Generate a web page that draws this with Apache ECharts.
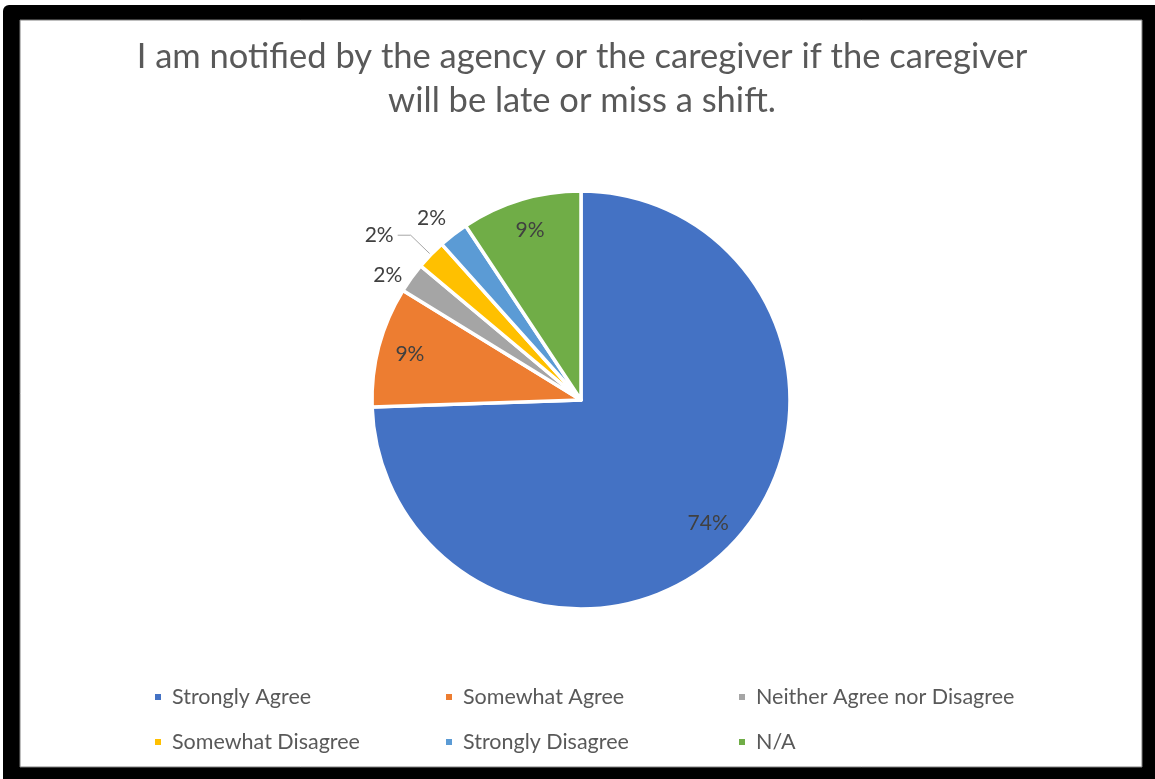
<!DOCTYPE html>
<html>
<head>
<meta charset="utf-8">
<script src="https://cdn.jsdelivr.net/npm/echarts@6/dist/echarts.min.js"></script>
<style>
  html, body { margin: 0; padding: 0; background: #ffffff; }
  #chart { width: 1155px; height: 779px; }
</style>
</head>
<body>
<div id="chart"></div>
<script>
// Survey responses (share of respondents, %)
const categories = ['Strongly Agree', 'Somewhat Agree', 'Neither Agree nor Disagree', 'Somewhat Disagree', 'Strongly Disagree', 'N/A'];
const shares = [74.4, 9.3, 2.3, 2.3, 2.3, 9.3];
const palette = ['#4472C4', '#ED7D31', '#A5A5A5', '#FFC000', '#5B9BD5', '#70AD47'];
const titleLines = ['I am notified by the agency or the caregiver if the caregiver', 'will be late or miss a shift.'];
const legendColumns = [
  ['Strongly Agree', 'Somewhat Disagree'],
  ['Somewhat Agree', 'Strongly Disagree'],
  ['Neither Agree nor Disagree', 'N/A']
];

const FONT = 'Lato';
const TEXT_GREY = '#595959';
const LABEL_GREY = '#404040';
const CX = 581, CY = 400, R = 209;

// Thin slices get their labels outside the pie; the rest sit inside.
const outsideLabel = {
  2: { length: 5, length2: 0, line: false, dist: 5 },
  3: { length: 28, length2: 13, line: true, dist: 4 },
  4: { length: 20, length2: 0, line: false, dist: -5 }
};

const pct = v => Math.round(v) + '%';

const sliceData = categories.map((name, i) => {
  const item = { name, value: shares[i], itemStyle: { color: palette[i] } };
  const o = outsideLabel[i];
  if (o) {
    item.label = { show: true, position: 'outside', distanceToLabelLine: o.dist };
    item.labelLine = { show: o.line, length: o.length, length2: o.length2 };
  } else {
    item.label = { show: false };
  }
  return item;
});

// Transparent twin used only to place the inside labels further out.
const insideData = categories.map((name, i) => ({
  name,
  value: shares[i],
  label: { show: !outsideLabel[i] }
}));

const legendBase = {
  orient: 'vertical',
  top: 686,
  padding: 0,
  itemGap: 23,
  itemWidth: 8,
  itemHeight: 8,
  icon: 'rect',
  selectedMode: false,
  textStyle: { fontFamily: FONT, fontSize: 21.5, color: TEXT_GREY, lineHeight: 20, padding: [0, 0, 0, 5] }
};
const legendLefts = [153, 444, 737];

const option = {
  animation: false,
  color: palette,
  graphic: [
    { type: 'rect', z: -10, silent: true, shape: { x: 3, y: 5, width: 1152, height: 774, r: [6, 0, 0, 0] }, style: { fill: '#000000' } },
    { type: 'rect', z: -9, silent: true, shape: { x: 20, y: 20, width: 1122, height: 747 }, style: { fill: '#ffffff', stroke: '#7f7f7f', lineWidth: 1 } }
  ],
  title: {
    text: titleLines.join('\n'),
    left: 582,
    top: 35,
    textAlign: 'center',
    padding: 0,
    textStyle: { fontFamily: FONT, fontWeight: 'normal', fontSize: 34.5, lineHeight: 44, color: TEXT_GREY }
  },
  legend: legendColumns.map((names, i) => Object.assign({}, legendBase, { left: legendLefts[i], data: names })),
  series: [
    {
      type: 'pie',
      center: [CX, CY],
      radius: [0, R],
      startAngle: 90,
      clockwise: true,
      avoidLabelOverlap: false,
      silent: true,
      itemStyle: { borderColor: '#ffffff', borderWidth: 3.5 },
      label: { formatter: p => pct(p.value), fontFamily: FONT, fontSize: 21, color: LABEL_GREY },
      labelLine: { lineStyle: { color: '#a6a6a6', width: 1 } },
      data: sliceData
    },
    {
      type: 'pie',
      center: [CX, CY],
      radius: [0, 348],
      startAngle: 90,
      clockwise: true,
      silent: true,
      avoidLabelOverlap: false,
      itemStyle: { color: 'rgba(0,0,0,0)', borderWidth: 0 },
      label: { position: 'inside', formatter: p => pct(p.value), fontFamily: FONT, fontSize: 21, color: LABEL_GREY },
      labelLine: { show: false },
      data: insideData
    }
  ]
};

const chart = echarts.init(document.getElementById('chart'), null, { renderer: 'canvas' });
chart.setOption(option);
</script>
</body>
</html>
